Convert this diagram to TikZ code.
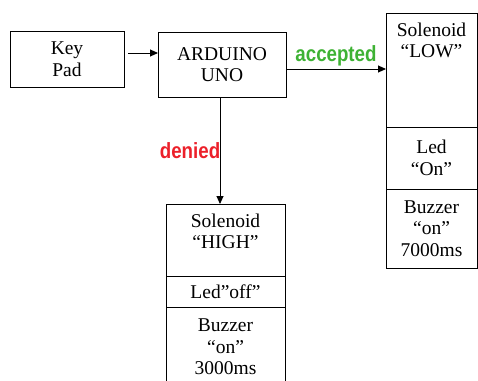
\documentclass[tikz,border=0pt]{standalone}
\usepackage{fontspec}
\setmainfont{Liberation Serif}
\newfontfamily\verdictfont{Liberation Sans}
\usetikzlibrary{arrows.meta, positioning}
\definecolor{okgreen}{RGB}{62,178,52}
\definecolor{nored}{RGB}{236,32,42}
\tikzset{
  box/.style={draw, line width=0.9pt, outer sep=0pt, inner sep=2pt, align=center,
    font=\fontsize{19.5}{21.5}\selectfont},
  toptext/.style={label={[anchor=north, yshift=-6pt, align=center,
    font=\fontsize{19.5}{21.5}\selectfont]north:#1}},
  arr/.style={-{Triangle[length=8pt,width=7pt]}, line width=0.9pt},
  verdict/.style={font=\verdictfont\bfseries\fontsize{22}{26}\selectfont, xscale=0.85}
}
\begin{document}
\begin{tikzpicture}[x=1pt,y=-1pt]
  \useasboundingbox (0,0) rectangle (478,380);
  % input and controller
  \node[box, minimum width=114pt, minimum height=56pt] (keypad) at (67,59) {Key\\Pad};
  \node[box, minimum width=128pt, minimum height=65pt] (arduino) at (222,64.5) {ARDUINO\\UNO};
  % accepted branch
  \node[box, minimum width=91pt, minimum height=114pt, anchor=north,
    toptext={Solenoid\\``LOW''}] (lowsol) at (431.5,13) {};
  \node[box, minimum width=91pt, minimum height=62pt, below=0pt of lowsol] (ledon) {Led\\``On''};
  \node[box, minimum width=91pt, minimum height=79pt, below=0pt of ledon] (buzzon) {Buzzer\\``on''\\7000ms};
  % denied branch
  \node[box, minimum width=119pt, minimum height=72pt, anchor=north,
    toptext={Solenoid\\``HIGH''}] (highsol) at (225.5,204) {};
  \node[box, minimum width=119pt, minimum height=31pt, below=0pt of highsol] (ledoff) {Led”off”};
  \node[box, minimum width=119pt, minimum height=80pt, below=0pt of ledoff] (buzzoff) {Buzzer\\``on''\\3000ms};
  % connectors
  \draw[arr] ([xshift=4pt,yshift=6pt]keypad.east) -- ([yshift=6pt]keypad.east -| arduino.west);
  \draw[arr] ([yshift=-4.5pt]arduino.east) -- ([yshift=-4.5pt]arduino.east -| lowsol.west)
    node[verdict, text=okgreen, midway, above, yshift=-1pt] {accepted};
  \draw[arr] ([xshift=-2pt]arduino.south) -- ([xshift=-2pt]arduino.south |- highsol.north)
    node[verdict, text=nored, pos=0.5, left, xshift=4pt] {denied};
\end{tikzpicture}
\end{document}
